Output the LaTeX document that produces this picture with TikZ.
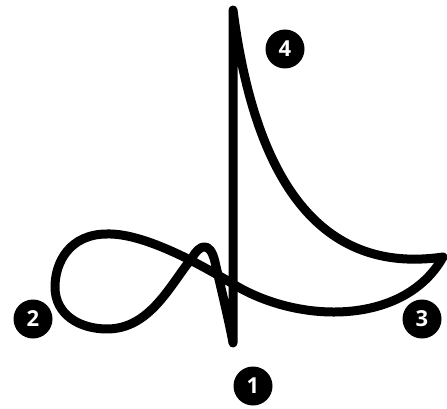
\documentclass[tikz,border=0pt]{standalone}
\usepackage{fontspec}
\setmainfont{Open Sans}
\begin{document}
\begin{tikzpicture}[x=1pt,y=-1pt,
  curve/.style={line width=9pt, line join=round, line cap=round},
  num/.style={circle, fill=black, text=white, minimum size=39pt, inner sep=0pt,
    font=\fontsize{22}{22}\selectfont\bfseries}]
\useasboundingbox (0,0) rectangle (447,409);
% the closed curve
\coordinate (top) at (233,10);
\coordinate (tip) at (443,257);
\coordinate (cross) at (233,284);
\coordinate (ltop) at (107,234);
\coordinate (lleft) at (55,287);
\coordinate (lbot) at (107,329);
\coordinate (rise) at (192,258);
\coordinate (fall) at (215,262);
\coordinate (bot) at (233,343);
\draw[curve] (top)
  .. controls (255,180) and (320,275) .. (tip)
  .. controls (405,325) and (300,325) .. (cross)
  .. controls (190,258) and (140,233) .. (ltop)
  .. controls (70,234) and (55,262) .. (lleft)
  .. controls (55,315) and (80,329) .. (lbot)
  .. controls (150,329) and (170,285) .. (rise)
  .. controls (199,245) and (210,240) .. (fall)
  .. controls (220,284) and (230,325) .. (bot)
  -- cycle;
% numbered markers
\node[num] (n1) at (253,386) {1};
\node[num] (n2) at (33,319) {2};
\node[num] (n3) at (422,319) {3};
\node[num] (n4) at (285,49) {4};
\end{tikzpicture}
\end{document}
